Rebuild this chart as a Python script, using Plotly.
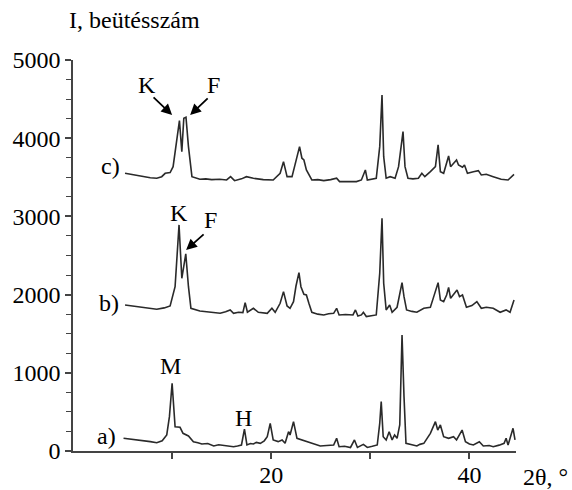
import plotly.graph_objects as go

# ---- data ----
xa = [5.1, 6.0, 7.0, 7.8, 8.45, 9.0, 9.46, 9.73, 10.0, 10.3, 10.8, 11.1, 11.65, 12.15, 12.6, 13.0, 13.6, 14.2, 14.7, 15.2, 15.7, 16.2, 16.6, 17.0, 17.3, 17.55, 17.9, 18.2, 18.5, 18.9, 19.3, 19.6, 19.9, 20.2, 20.7, 21.1, 21.4, 21.75, 21.9, 22.25, 22.6, 23.1, 23.6, 24.3, 24.95, 25.6, 26.3, 26.6, 26.85, 27.4, 28.0, 28.4, 28.7, 29.3, 29.7, 30.2, 30.7, 30.95, 31.1, 31.3, 31.6, 31.9, 32.2, 32.45, 32.7, 32.97, 33.2, 33.4, 33.6, 34.2, 34.7, 35.0, 35.4, 36.06, 36.57, 36.8, 37.07, 37.4, 37.9, 38.4, 38.7, 39.26, 39.6, 40.0, 40.4, 41.0, 41.4, 42.0, 42.4, 43.0, 43.5, 43.7, 43.9, 44.4, 44.6]
ya = [162, 150, 135, 120, 106, 130, 205, 439, 866, 311, 303, 226, 192, 119, 105, 90, 95, 64, 80, 70, 62, 55, 65, 77, 281, 77, 95, 90, 110, 98, 130, 183, 354, 141, 120, 141, 98, 247, 205, 375, 162, 140, 119, 90, 64, 70, 77, 162, 55, 60, 45, 141, 45, 85, 45, 60, 77, 354, 631, 183, 141, 247, 141, 205, 162, 333, 1484, 695, 98, 80, 64, 85, 98, 226, 375, 268, 333, 183, 162, 183, 141, 268, 119, 90, 77, 119, 64, 70, 55, 75, 98, 162, 77, 290, 141]

xb = [5.25, 6.2, 7.0, 7.8, 8.45, 9.2, 9.8, 10.3, 10.7, 10.98, 11.38, 11.65, 11.9, 12.8, 13.8, 14.85, 15.4, 15.86, 16.2, 16.7, 17.14, 17.37, 17.6, 18.2, 18.7, 19.2, 19.6, 20.07, 20.4, 20.9, 21.24, 21.6, 21.9, 22.25, 22.5, 22.8, 23.0, 23.3, 23.55, 23.8, 24.1, 24.7, 25.3, 25.8, 26.3, 26.6, 26.85, 27.5, 28.25, 28.5, 28.75, 29.1, 29.3, 29.6, 30.1, 30.6, 30.95, 31.18, 31.35, 31.6, 31.95, 32.2, 32.7, 32.97, 33.2, 33.4, 33.66, 34.2, 34.7, 35.4, 36.06, 36.4, 36.84, 37.07, 37.4, 37.7, 37.9, 38.1, 38.4, 38.75, 39.0, 39.3, 39.7, 40.25, 40.75, 41.2, 41.7, 42.4, 43.1, 43.7, 44.1, 44.5]
yb = [1867, 1850, 1830, 1820, 1812, 1830, 1855, 2101, 2891, 2209, 2520, 2101, 1825, 1791, 1775, 1761, 1780, 1803, 1761, 1775, 1770, 1897, 1774, 1825, 1774, 1770, 1761, 1825, 1774, 1889, 2038, 1855, 1825, 1910, 2110, 2281, 2101, 2004, 1995, 1889, 1774, 1750, 1740, 1755, 1761, 1825, 1740, 1745, 1740, 1804, 1727, 1740, 1774, 1719, 1730, 1740, 2273, 2976, 2145, 1804, 1867, 1774, 1838, 2038, 2153, 1974, 1804, 1785, 1774, 1825, 1838, 1974, 2153, 1931, 1910, 1995, 2093, 1952, 1995, 2059, 1974, 1995, 1838, 1859, 1910, 1825, 1838, 1825, 1774, 1804, 1774, 1931]

xc = [5.25, 6.2, 7.0, 7.8, 8.45, 8.95, 9.3, 9.8, 10.1, 10.47, 10.74, 10.98, 11.18, 11.4, 11.65, 12.0, 12.8, 13.4, 14.0, 14.8, 15.5, 15.9, 16.3, 17.0, 17.5, 18.2, 19.2, 20.2, 20.9, 21.24, 21.6, 22.1, 22.45, 22.86, 23.1, 23.3, 23.55, 24.1, 24.7, 25.3, 26.0, 26.6, 26.9, 27.8, 28.6, 29.1, 29.5, 29.7, 30.2, 30.6, 30.95, 31.18, 31.35, 31.6, 32.0, 32.5, 32.85, 33.1, 33.3, 33.5, 33.8, 34.3, 34.85, 35.2, 35.5, 36.06, 36.57, 36.84, 37.07, 37.4, 37.7, 37.9, 38.1, 38.4, 38.7, 38.9, 39.3, 39.5, 39.8, 40.4, 40.9, 41.2, 41.7, 42.4, 43.2, 43.9, 44.5]
yc = [3551, 3530, 3510, 3495, 3488, 3508, 3551, 3560, 3636, 3978, 4225, 3828, 4255, 4268, 3892, 3508, 3475, 3480, 3470, 3475, 3466, 3508, 3457, 3480, 3508, 3488, 3470, 3466, 3551, 3700, 3508, 3508, 3680, 3892, 3744, 3722, 3594, 3466, 3470, 3457, 3470, 3488, 3445, 3450, 3445, 3466, 3594, 3466, 3475, 3488, 3892, 4553, 3764, 3488, 3508, 3488, 3636, 3850, 4084, 3636, 3488, 3480, 3488, 3551, 3508, 3572, 3636, 3914, 3572, 3551, 3700, 3773, 3636, 3680, 3722, 3658, 3628, 3658, 3551, 3572, 3585, 3530, 3538, 3508, 3475, 3466, 3538]

x_tickvals = [10, 20, 30, 40]
x_ticktext = ["", "20", "", "40"]
y_tickvals = [0, 1000, 2000, 3000, 4000, 5000]

FONT = "Liberation Serif, Times New Roman, DejaVu Serif, serif"
FS = 24
LINE = "#2a2a2a"
AX = "#444"

W, H = 572, 490
ML, MR, MT, MB = 73, 56, 60, 39
PW, PH = W - ML - MR, H - MT - MB

fig = go.Figure()
for xs, ys in [(xa, ya), (xb, yb), (xc, yc)]:
    fig.add_trace(go.Scatter(x=xs, y=ys, mode="lines",
                             line=dict(color=LINE, width=1.6), showlegend=False,
                             hoverinfo="skip"))

fig.update_layout(
    width=W, height=H,
    margin=dict(l=ML, r=MR, t=MT, b=MB, autoexpand=False),
    paper_bgcolor="white", plot_bgcolor="white",
    font=dict(family=FONT, size=FS, color="black"),
    xaxis=dict(range=[0, 44.7], showgrid=False, zeroline=False, automargin=False,
               showline=True, linecolor=AX, linewidth=1.5,
               ticks="outside", ticklen=6, tickcolor=AX, tickwidth=1.5,
               tickvals=x_tickvals, ticktext=x_ticktext, ticklabelstandoff=-5,
               tickfont=dict(family=FONT, size=FS, color="black")),
    yaxis=dict(range=[0, 5000], showgrid=False, zeroline=False, automargin=False,
               showline=True, linecolor=AX, linewidth=1.5,
               ticks="outside", ticklen=6, tickcolor=AX, tickwidth=1.5,
               tickvals=y_tickvals,
               minor=dict(dtick=250, ticks="outside", ticklen=5,
                          tickcolor=AX, tickwidth=1.2),
               tickfont=dict(family=FONT, size=FS, color="black")),
)

ann = []
def txt(x, y, s):
    ann.append(dict(x=x, y=y, xref="x", yref="y", text=s, showarrow=False,
                    font=dict(family=FONT, size=FS, color="black")))

def arrow(x0, y0, x1, y1):
    ann.append(dict(x=x1, y=y1, ax=x0, ay=y0, xref="x", yref="y",
                    axref="x", ayref="y", text="", showarrow=True,
                    arrowhead=2, arrowsize=1.2, arrowwidth=1.8, arrowcolor="black"))

txt(7.47, 4681, "K")
txt(14.14, 4681, "F")
arrow(7.98, 4540, 10.0, 4297)
arrow(13.74, 4528, 11.82, 4297)
txt(10.7, 3044, "K")
txt(13.84, 2954, "F")
arrow(13.33, 2788, 11.41, 2571)
txt(9.8, 1087, "M")
txt(17.17, 422, "H")
txt(3.74, 3645, "c)")
txt(3.64, 1893, "b)")
txt(3.43, 192, "a)")

ann.append(dict(x=(67 - ML) / PW, y=(H - MB - 20) / PH, xref="paper", yref="paper",
                text="I, beütésszám", showarrow=False, xanchor="left", yanchor="middle",
                font=dict(family=FONT, size=FS, color="black")))
ann.append(dict(x=(545 - ML) / PW, y=(H - MB - 477) / PH, xref="paper", yref="paper",
                text="2θ, °", showarrow=False, xanchor="center", yanchor="middle",
                font=dict(family=FONT, size=FS, color="black")))
fig.update_layout(annotations=ann)

fig.write_html("out.html")
